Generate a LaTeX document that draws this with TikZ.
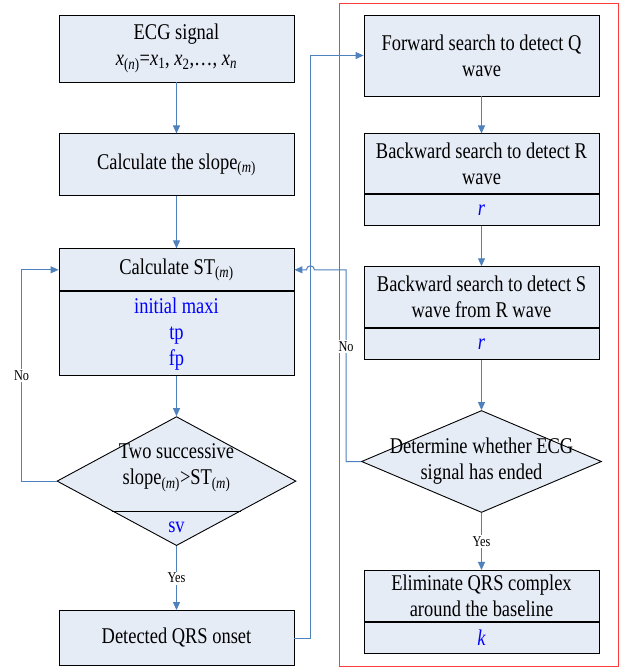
\documentclass[tikz,border=0pt]{standalone}
\usepackage{fontspec}
\setmainfont{Liberation Serif}[FakeStretch=0.82]
\usepackage{xcolor}
\usetikzlibrary{shapes.geometric,arrows.meta,positioning,calc}

\definecolor{boxfill}{RGB}{230,236,246}
\definecolor{linkblue}{RGB}{79,129,189}
\definecolor{framered}{RGB}{255,60,60}

\begin{document}
\begin{tikzpicture}[
    x=1pt, y=-1pt,
    box/.style={draw, rectangle, fill=boxfill, line width=0.9pt, minimum width=235pt, inner sep=0pt, align=center, font=\fontsize{22.5}{26}\selectfont},
    var/.style={box, text=blue, minimum height=31pt},
    decision/.style={draw, diamond, fill=boxfill, line width=0.9pt, inner sep=0pt},
    txt/.style={align=center, font=\fontsize{22.5}{26}\selectfont},
    small/.style={fill=white, inner sep=1.5pt, font=\fontsize{15}{17}\selectfont},
    arrow/.style={-{Triangle[length=8pt,width=7pt]}, draw=linkblue, line width=1pt}
]
\path[use as bounding box, fill=white] (0,0) rectangle (632,667);

% left column
\node[box, minimum height=67pt] (ecg) at (176.5,48.5) {ECG signal\\ \textit{x}\textsubscript{(\textit{n})}=\textit{x}\textsubscript{1}, \textit{x}\textsubscript{2},…, \textit{x}\textsubscript{\textit{n}}};
\node[box, minimum height=62pt, below=51pt of ecg] (slope) {Calculate the slope\textsubscript{(\textit{m})}};
\node[box, minimum height=42pt, below=52pt of slope] (st) {Calculate ST\textsubscript{(\textit{m})}};
\node[box, text=blue, minimum height=84pt, below=0pt of st] (stvar) {initial maxi\\ tp\\ fp};
\node[decision, minimum width=239pt, minimum height=129pt, below=40pt of stvar] (slopetest) {};
\node[txt] (slopetext) at ($(slopetest.center)+(0,-13)$) {Two successive\\ slope\textsubscript{(\textit{m})}>ST\textsubscript{(\textit{m})}};
\draw[line width=0.9pt] ($(slopetest.south)!0.54!(slopetest.west)$) -- ($(slopetest.south)!0.54!(slopetest.east)$);
\node[txt, text=blue] (sv) at ($(slopetest.south)+(0,-19)$) {sv};
\node[box, minimum height=55pt, below=64pt of slopetest] (onset) {Detected QRS onset};

% right column
\draw[framered, line width=0.9pt] (339,3) rectangle (618,666);
\node[box, minimum height=81pt] (fwd) at (481.5,55.5) {Forward search to detect Q\\ wave};
\node[box, minimum height=60pt, below=37pt of fwd] (bwr) {Backward search to detect R\\ wave};
\node[var, below=0pt of bwr] (bwrvar) {\textit{r}};
\node[box, minimum height=61pt, below=40pt of bwrvar] (bws) {Backward search to detect S\\ wave from R wave};
\node[var, below=0pt of bws] (bwsvar) {\textit{r}};
\node[decision, minimum width=240pt, minimum height=102pt, below=50pt of bwsvar] (endtest) {};
\node[txt] (endtext) at (endtest.center) {Determine whether ECG\\ signal has ended};
\node[box, minimum height=51pt, below=57pt of endtest] (elim) {Eliminate QRS complex\\ around the baseline};
\node[var, below=0pt of elim] (elimvar) {\textit{k}};

\coordinate[right=16pt of onset.east] (loopup);

\draw[arrow] (ecg) -- (slope);
\draw[arrow] (slope) -- (st);
\draw[arrow] (stvar) -- (slopetest);
\draw[arrow] (slopetest) -- node[small]{Yes} (onset);
\draw[arrow] (slopetest.west) -- ++(-35,0) |- node[small, pos=0.25]{No} (st.west);
\draw[arrow] (onset.east) -- (loopup) |- (fwd.west);

\draw[arrow] (fwd) -- (bwr);
\draw[arrow] (bwrvar) -- (bws);
\draw[arrow] (bwsvar) -- (endtest);
\draw[arrow] (endtest) -- node[small]{Yes} (elim);
\draw[arrow] (endtest.west) -- ++(-15,0) |- node[small, pos=0.3]{No} ($(st.east -| loopup)+(4,0)$) arc[start angle=0, end angle=180, radius=4pt] -- (st.east);

\end{tikzpicture}
\end{document}
